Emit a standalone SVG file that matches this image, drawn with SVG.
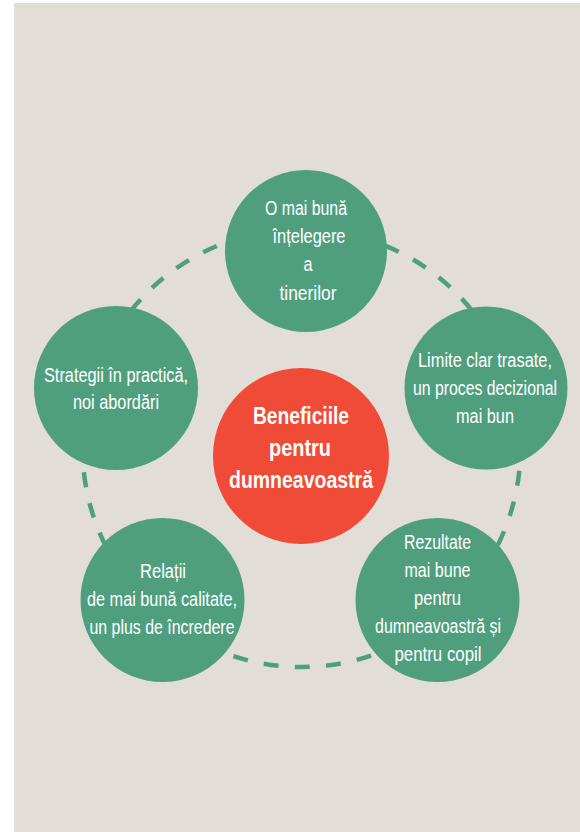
<svg xmlns="http://www.w3.org/2000/svg" width="580" height="832" viewBox="0 0 580 832">
<style>
.bg{fill:#e2ddd6}
.node{fill:#4f9f7f}
.center{fill:#f04b37}
.ring{fill:none;stroke:#4f9f7f;stroke-width:4.5;stroke-dasharray:15 16.27;stroke-dashoffset:8.4}
text{font-family:"Liberation Sans",Arial,sans-serif;fill:#ffffff;text-anchor:middle;font-size:19.5px}
.bold{font-weight:bold;font-size:24px}
</style>
<rect x="0" y="0" width="580" height="832" fill="#ffffff"/>
<rect class="bg" x="14" y="3" width="566" height="829"/>
<g id="connectors">
<circle class="ring" cx="301.5" cy="448" r="219"/>
</g>
<g id="node-top">
<circle class="node" cx="306" cy="251" r="81"/>
<text x="306" y="215" textLength="82" lengthAdjust="spacingAndGlyphs">O mai bună</text>
<text x="309" y="243" textLength="73" lengthAdjust="spacingAndGlyphs">înțelegere</text>
<text x="308" y="271" textLength="9" lengthAdjust="spacingAndGlyphs">a</text>
<text x="308" y="300" textLength="57" lengthAdjust="spacingAndGlyphs">tinerilor</text>
</g>
<g id="node-left">
<circle class="node" cx="116" cy="388" r="82"/>
<text x="116" y="382" textLength="144" lengthAdjust="spacingAndGlyphs">Strategii în practică,</text>
<text x="116" y="409" textLength="86" lengthAdjust="spacingAndGlyphs">noi abordări</text>
</g>
<g id="node-right">
<circle class="node" cx="486" cy="388" r="81.5"/>
<text x="485" y="367" textLength="134" lengthAdjust="spacingAndGlyphs">Limite clar trasate,</text>
<text x="485" y="395" textLength="144" lengthAdjust="spacingAndGlyphs">un proces decizional</text>
<text x="485" y="423" textLength="58" lengthAdjust="spacingAndGlyphs">mai bun</text>
</g>
<g id="node-bottom-left">
<circle class="node" cx="162.5" cy="600" r="82"/>
<text x="163" y="578" textLength="46" lengthAdjust="spacingAndGlyphs">Relații</text>
<text x="162" y="606" textLength="150" lengthAdjust="spacingAndGlyphs">de mai bună calitate,</text>
<text x="162" y="634" textLength="145" lengthAdjust="spacingAndGlyphs">un plus de încredere</text>
</g>
<g id="node-bottom-right">
<circle class="node" cx="437.5" cy="600" r="82"/>
<text x="437.5" y="549" textLength="67" lengthAdjust="spacingAndGlyphs">Rezultate</text>
<text x="437.5" y="577" textLength="66" lengthAdjust="spacingAndGlyphs">mai bune</text>
<text x="437.5" y="605" textLength="47" lengthAdjust="spacingAndGlyphs">pentru</text>
<text x="438" y="633" textLength="126" lengthAdjust="spacingAndGlyphs">dumneavoastră și</text>
<text x="438" y="661" textLength="87" lengthAdjust="spacingAndGlyphs">pentru copil</text>
</g>
<g id="node-center">
<circle class="center" cx="301" cy="456" r="88"/>
<text class="bold" x="301" y="424" textLength="96" lengthAdjust="spacingAndGlyphs">Beneficiile</text>
<text class="bold" x="300" y="456" textLength="62" lengthAdjust="spacingAndGlyphs">pentru</text>
<text class="bold" x="301" y="488" textLength="144" lengthAdjust="spacingAndGlyphs">dumneavoastră</text>
</g>
</svg>
